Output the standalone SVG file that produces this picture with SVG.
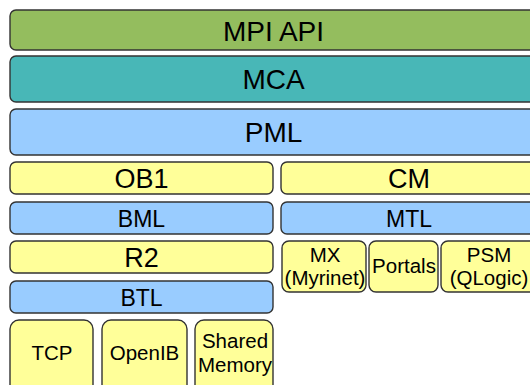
<svg xmlns="http://www.w3.org/2000/svg" width="530" height="385" viewBox="0 0 530 385">
<style>
rect{stroke:#333;stroke-width:1.4}
.g{fill:#94bd5e}
.t{fill:#48b7b7}
.b{fill:#99ccff}
.y{fill:#ffff99}
text{font-family:"Liberation Sans",Arial,sans-serif;fill:#000;text-anchor:middle}
.f28{font-size:28px}
.f27{font-size:27px}
.f23{font-size:23px}
.f20{font-size:20.5px}
</style>
<rect width="530" height="385" fill="#fff" style="stroke:none"/>
<g id="mpiapi"><rect class="g" x="10" y="10" width="527" height="40" rx="6"/><text class="f28" x="273.5" y="40.5">MPI API</text></g>
<g id="mca"><rect class="t" x="10" y="56" width="527" height="46" rx="6"/><text class="f28" x="273.5" y="89">MCA</text></g>
<g id="pml"><rect class="b" x="10" y="109" width="527" height="46" rx="6"/><text class="f28" x="273.5" y="142">PML</text></g>
<g id="ob1"><rect class="y" x="10" y="162" width="263" height="32" rx="6"/><text class="f27" x="141.5" y="188">OB1</text></g>
<g id="cm"><rect class="y" x="281" y="162" width="256" height="32" rx="6"/><text class="f27" x="409" y="188">CM</text></g>
<g id="bml"><rect class="b" x="10" y="202" width="263" height="32" rx="6"/><text class="f23" x="141.5" y="227">BML</text></g>
<g id="mtl"><rect class="b" x="281" y="202" width="256" height="32" rx="6"/><text class="f23" x="409" y="227">MTL</text></g>
<g id="r2"><rect class="y" x="10" y="241" width="263" height="32" rx="6"/><text class="f27" x="141.5" y="267">R2</text></g>
<g id="btl"><rect class="b" x="10" y="281" width="263" height="32" rx="6"/><text class="f23" x="141.5" y="306">BTL</text></g>
<g id="tcp"><rect class="y" x="10" y="320" width="83" height="75" rx="9"/><text class="f20" x="52" y="360">TCP</text></g>
<g id="openib"><rect class="y" x="102" y="320" width="85" height="75" rx="9"/><text class="f20" x="144.5" y="360">OpenIB</text></g>
<g id="shared"><rect class="y" x="195" y="320" width="78" height="75" rx="9"/><text class="f20" x="235" y="348">Shared</text><text class="f20" x="235" y="372">Memory</text></g>
<g id="mx"><rect class="y" x="282" y="241" width="84" height="51" rx="7"/><text class="f20" x="325" y="262">MX</text><text class="f20" x="325" y="285">(Myrinet)</text></g>
<g id="portals"><rect class="y" x="369" y="241" width="69" height="51" rx="7"/><text class="f20" x="404" y="273">Portals</text></g>
<g id="psm"><rect class="y" x="441" y="241" width="96" height="51" rx="7"/><text class="f20" x="489" y="262">PSM</text><text class="f20" x="489" y="285">(QLogic)</text></g>
<g id="connectors"/>
</svg>
